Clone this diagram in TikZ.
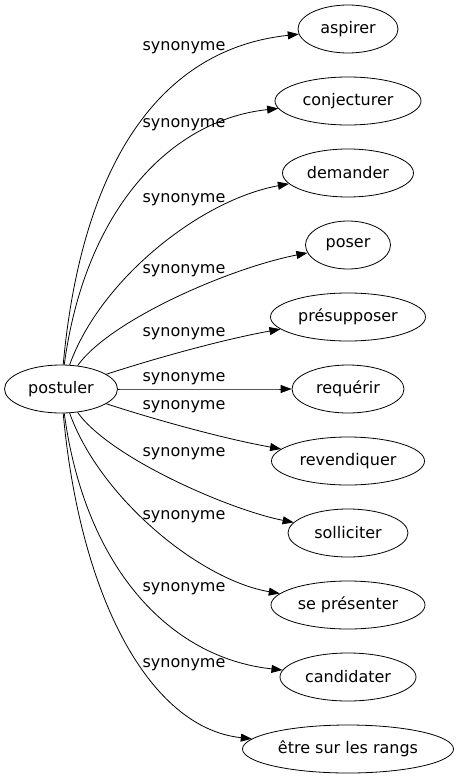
\documentclass[tikz,border=0pt]{standalone}
\usepackage{fontspec}
\setmainfont{DejaVu Sans}
\usepackage{tikz}
\usetikzlibrary{shapes}
\usetikzlibrary{arrows.meta}

\begin{document}
\begin{tikzpicture}[
  x=1pt, y=-1pt,
  line width=0.8pt,
  font=\fontsize{16}{19}\selectfont,
  >={Triangle[length=11pt,width=8pt]}]
  \tikzstyle{mot}=[draw, ellipse, minimum height=48pt, inner sep=0pt]
  \tikzstyle{rel}=[inner sep=0pt]
  \useasboundingbox (0,0) rectangle (460,779);
  \node[mot, minimum width=113pt] (post) at (61,389) {postuler};
  % synonymes, one every 72pt
  \foreach \nom/\mot/\larg [count=\i] in {asp/aspirer/100, conj/conjecturer/146,
      dem/demander/131, pos/poser/85, pres/présupposer/155, req/requérir/112,
      rev/revendiquer/153, sol/solliciter/120, sep/se présenter/154,
      cand/candidater/136, etre/être sur les rangs/211}
    \node[mot, minimum width=\larg pt] (\nom) at (348,{29+72*(\i-1)}) {\mot};
  % edges and their labels
  \foreach \nom/\ax/\ay/\bx/\by/\ly [count=\k] in {asp/80/180/150/50/48,
      conj/85/210/170/120/125, dem/100/280/200/200/200, pos/110/320/230/268/271,
      pres/150/360/220/340/334, req/150/389/250/389/379, rev/150/418/220/438/407,
      sol/110/458/230/510/454, sep/100/498/200/580/517, cand/85/568/170/658/589,
      etre/80/598/150/728/665}
  {
    \draw[->] (post) .. controls (\ax,\ay) and (\bx,\by) .. (\nom);
    \node[rel] (syn\k) at (184,\ly) {synonyme};
  }
\end{tikzpicture}
\end{document}
